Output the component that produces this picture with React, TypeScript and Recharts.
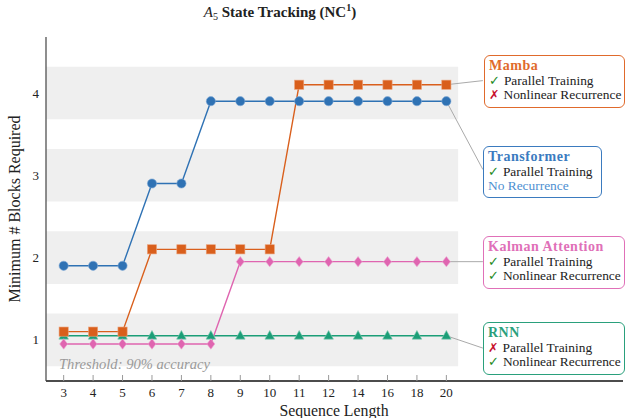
import React from 'react';
import { LineChart, Line, XAxis, YAxis, ReferenceArea, ReferenceLine } from 'recharts';

const seqLengths = ['3', '4', '5', '6', '7', '8', '9', '10', '11', '12', '14', '16', '18', '20'];
const transformer = [1.9, 1.9, 1.9, 2.9, 2.9, 3.9, 3.9, 3.9, 3.9, 3.9, 3.9, 3.9, 3.9, 3.9];
const mamba = [1.1, 1.1, 1.1, 2.1, 2.1, 2.1, 2.1, 2.1, 4.1, 4.1, 4.1, 4.1, 4.1, 4.1];
const kalman = [0.95, 0.95, 0.95, 0.95, 0.95, 0.95, 1.95, 1.95, 1.95, 1.95, 1.95, 1.95, 1.95, 1.95];
const rnn = [1.05, 1.05, 1.05, 1.05, 1.05, 1.05, 1.05, 1.05, 1.05, 1.05, 1.05, 1.05, 1.05, 1.05];
const yTicks = [1, 2, 3, 4];

const C = {
  blue: '#2f72b4',
  orange: '#d95f1c',
  pink: '#df65b0',
  green: '#1b9e77',
};

const data = seqLengths.map((s, i) => ({
  i,
  label: s,
  transformer: transformer[i],
  mamba: mamba[i],
  kalman: kalman[i],
  rnn: rnn[i],
}));

const SERIF = '"Liberation Serif", "DejaVu Serif", serif';
const LAST = seqLengths.length - 1;
const BOX_X = 14.24;

const CircleDot = (p: any) =>
  p.cx == null ? <g key={p.index} /> : <circle key={p.index} cx={p.cx} cy={p.cy} r={4.6} fill={C.blue} stroke="#7fa9d6" strokeWidth={0.6} />;
const SquareDot = (p: any) =>
  p.cx == null ? <g key={p.index} /> : <rect key={p.index} x={p.cx - 4.6} y={p.cy - 4.6} width={9.2} height={9.2} fill={C.orange} stroke="#eba27a" strokeWidth={0.6} />;
const TriDot = (p: any) =>
  p.cx == null ? <g key={p.index} /> : (
    <path key={p.index} d={`M${p.cx},${p.cy - 5.2} L${p.cx + 4.8},${p.cy + 3.4} L${p.cx - 4.8},${p.cy + 3.4} Z`} fill={C.green} stroke="#7cc8b0" strokeWidth={0.6} />
  );
const DiaDot = (p: any) =>
  p.cx == null ? <g key={p.index} /> : (
    <path key={p.index} d={`M${p.cx},${p.cy - 5.2} L${p.cx + 4},${p.cy} L${p.cx},${p.cy + 5.2} L${p.cx - 4},${p.cy} Z`} fill={C.pink} stroke="#eea8d3" strokeWidth={0.6} />
  );

const XTick = (p: any) => {
  const { x, y, payload } = p;
  return (
    <g>
      <line x1={x} x2={x} y1={y - 6} y2={y} stroke="#999" strokeWidth={1} />
      <text x={x} y={y + 16} textAnchor="middle" fontFamily={SERIF} fontSize={13} fill="#222">
        {seqLengths[payload.value]}
      </text>
    </g>
  );
};

const Check = () => <span style={{ color: '#1f8a1f', fontFamily: '"DejaVu Sans", sans-serif', fontSize: 13, fontWeight: 'bold', marginRight: 4 }}>✓</span>;
const Cross = () => <span style={{ color: '#c8102e', fontFamily: '"DejaVu Sans", sans-serif', fontSize: 12.5, marginRight: 4 }}>✗</span>;

const boxBase: React.CSSProperties = {
  position: 'absolute',
  boxSizing: 'border-box',
  borderRadius: 6,
  borderStyle: 'solid',
  borderWidth: 1.3,
  background: '#fff',
  padding: '3px 0 0 4px',
  fontFamily: SERIF,
  fontSize: 13.4,
  lineHeight: '14.5px',
  color: '#222',
  whiteSpace: 'nowrap',
  overflow: 'hidden',
};
const titleStyle = (color: string): React.CSSProperties => ({ fontWeight: 'bold', color, fontSize: 14, letterSpacing: 0.5 });

export default function App() {
  return (
    <div style={{ position: 'absolute', left: 0, top: 0, width: 625, height: 418, background: '#fff', overflow: 'hidden' }}>
      <LineChart width={625} height={418} data={data} margin={{ top: 37, right: 2, bottom: 0, left: 0 }}>
        {yTicks.map((v) => (
          <ReferenceArea key={v} x1={-0.6} x2={13.4} y1={v - 0.32} y2={v + 0.32} fill="#efefef" fillOpacity={1} stroke="none" ifOverflow="visible" />
        ))}
        <XAxis
          type="number"
          dataKey="i"
          domain={[-0.6, 19]}
          ticks={seqLengths.map((_, i) => i)}
          allowDataOverflow
          height={37}
          tickSize={0}
          tickMargin={0}
          tickLine={false}
          tick={<XTick />}
          axisLine={{ stroke: '#111', strokeWidth: 1.3 }}
          interval={0}
        />
        <YAxis
          type="number"
          domain={[0.5, 4.68]}
          ticks={yTicks}
          allowDataOverflow
          width={46}
          tickLine={false}
          tickSize={0}
          tickMargin={7}
          axisLine={{ stroke: '#444', strokeWidth: 1.2 }}
          tick={{ fontFamily: SERIF, fontSize: 13, fill: '#222' }}
        />
        <ReferenceLine segment={[{ x: LAST, y: mamba[LAST] }, { x: BOX_X, y: 4.15 }]} stroke="#aaa" strokeWidth={1} ifOverflow="visible" />
        <ReferenceLine segment={[{ x: LAST, y: transformer[LAST] }, { x: BOX_X, y: 3.07 }]} stroke="#aaa" strokeWidth={1} ifOverflow="visible" />
        <ReferenceLine segment={[{ x: LAST, y: kalman[LAST] }, { x: BOX_X, y: 1.95 }]} stroke="#aaa" strokeWidth={1} ifOverflow="visible" />
        <ReferenceLine segment={[{ x: LAST, y: rnn[LAST] }, { x: BOX_X, y: 0.9 }]} stroke="#aaa" strokeWidth={1} ifOverflow="visible" />
        <Line dataKey="rnn" stroke={C.green} strokeWidth={1.4} dot={TriDot} isAnimationActive={false} />
        <Line dataKey="kalman" stroke={C.pink} strokeWidth={1.4} dot={DiaDot} isAnimationActive={false} />
        <Line dataKey="transformer" stroke={C.blue} strokeWidth={1.4} dot={CircleDot} isAnimationActive={false} />
        <Line dataKey="mamba" stroke={C.orange} strokeWidth={1.4} dot={SquareDot} isAnimationActive={false} />
      </LineChart>

      <div style={{ position: 'absolute', left: 0, top: 4, width: 560, textAlign: 'center', fontFamily: SERIF, fontSize: 15, color: '#222' }}>
        <span style={{ fontStyle: 'italic' }}>A</span>
        <span style={{ fontSize: 10, position: 'relative', top: 3 }}>5</span>{' '}
        <b>
          State Tracking (NC<span style={{ fontSize: 10, position: 'relative', top: -6 }}>1</span>)
        </b>
      </div>

      <div style={{ position: 'absolute', left: 59, top: 356, fontFamily: SERIF, fontStyle: 'italic', fontSize: 14.6, color: '#9a9a9a', whiteSpace: 'nowrap' }}>
        Threshold: 90% accuracy
      </div>

      <div style={{ position: 'absolute', left: 234, width: 200, top: 402, textAlign: 'center', fontFamily: SERIF, fontSize: 15.8, color: '#222' }}>
        Sequence Length
      </div>
      <div
        style={{
          position: 'absolute',
          left: 15,
          top: 208.5,
          transform: 'translate(-50%, -50%) rotate(-90deg)',
          fontFamily: SERIF,
          fontSize: 16,
          color: '#222',
          whiteSpace: 'nowrap',
        }}
      >
        Minimum # Blocks Required
      </div>

      <div style={{ ...boxBase, left: 484, top: 55, width: 141, height: 53, borderColor: '#e06a2c' }}>
        <div style={titleStyle('#e06a2c')}>Mamba</div>
        <div><Check />Parallel Training</div>
        <div><Cross />Nonlinear Recurrence</div>
      </div>
      <div style={{ ...boxBase, left: 483, top: 146, width: 119, height: 52, borderColor: '#3b7bbf' }}>
        <div style={titleStyle('#3b7bbf')}>Transformer</div>
        <div><Check />Parallel Training</div>
        <div style={{ color: '#4d8fd1' }}>No Recurrence</div>
      </div>
      <div style={{ ...boxBase, left: 483, top: 236, width: 142, height: 53, borderColor: '#e070b8' }}>
        <div style={titleStyle('#e070b8')}>Kalman Attention</div>
        <div><Check />Parallel Training</div>
        <div><Check />Nonlinear Recurrence</div>
      </div>
      <div style={{ ...boxBase, left: 483, top: 322, width: 142, height: 53, borderColor: '#2aa07c' }}>
        <div style={titleStyle('#2aa07c')}>RNN</div>
        <div><Cross />Parallel Training</div>
        <div><Check />Nonlinear Recurrence</div>
      </div>
    </div>
  );
}
